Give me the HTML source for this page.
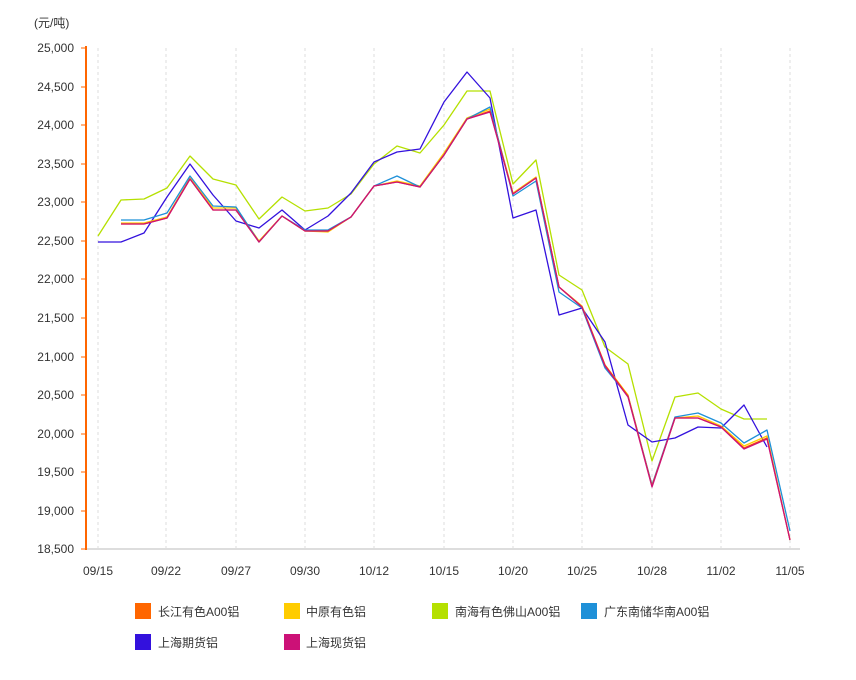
<!DOCTYPE html>
<html><head><meta charset="utf-8"><style>
body{margin:0;background:#fff;font-family:"Liberation Sans","Noto Sans CJK SC",sans-serif;}
</style></head><body>
<svg width="856" height="675" xmlns="http://www.w3.org/2000/svg" font-family="Liberation Sans, Noto Sans CJK SC, sans-serif">
<text x="34" y="27" font-size="12" fill="#333">(元/吨)</text>
<g stroke="#ddd" stroke-dasharray="3,3">
<line x1="98" y1="48" x2="98" y2="549"/><line x1="166" y1="48" x2="166" y2="549"/><line x1="236" y1="48" x2="236" y2="549"/><line x1="305" y1="48" x2="305" y2="549"/><line x1="374" y1="48" x2="374" y2="549"/><line x1="444" y1="48" x2="444" y2="549"/><line x1="513" y1="48" x2="513" y2="549"/><line x1="582" y1="48" x2="582" y2="549"/><line x1="652" y1="48" x2="652" y2="549"/><line x1="721" y1="48" x2="721" y2="549"/><line x1="790" y1="48" x2="790" y2="549"/>
</g>
<line x1="86" y1="549" x2="800" y2="549" stroke="#ddd" stroke-width="2"/>
<line x1="86" y1="46" x2="86" y2="550" stroke="#ff6600" stroke-width="2"/>
<g stroke="#ff6600" stroke-width="1">
<line x1="81" y1="48" x2="86" y2="48"/><line x1="81" y1="87" x2="86" y2="87"/><line x1="81" y1="125" x2="86" y2="125"/><line x1="81" y1="164" x2="86" y2="164"/><line x1="81" y1="202" x2="86" y2="202"/><line x1="81" y1="241" x2="86" y2="241"/><line x1="81" y1="279" x2="86" y2="279"/><line x1="81" y1="318" x2="86" y2="318"/><line x1="81" y1="357" x2="86" y2="357"/><line x1="81" y1="395" x2="86" y2="395"/><line x1="81" y1="434" x2="86" y2="434"/><line x1="81" y1="472" x2="86" y2="472"/><line x1="81" y1="511" x2="86" y2="511"/><line x1="81" y1="549" x2="86" y2="549"/>
</g>
<g font-size="12" fill="#333" text-anchor="end">
<text x="74" y="52">25,000</text><text x="74" y="91">24,500</text><text x="74" y="129">24,000</text><text x="74" y="168">23,500</text><text x="74" y="206">23,000</text><text x="74" y="245">22,500</text><text x="74" y="283">22,000</text><text x="74" y="322">21,500</text><text x="74" y="361">21,000</text><text x="74" y="399">20,500</text><text x="74" y="438">20,000</text><text x="74" y="476">19,500</text><text x="74" y="515">19,000</text><text x="74" y="553">18,500</text>
</g>
<g font-size="12" fill="#333" text-anchor="middle">
<text x="98" y="575">09/15</text><text x="166" y="575">09/22</text><text x="236" y="575">09/27</text><text x="305" y="575">09/30</text><text x="374" y="575">10/12</text><text x="444" y="575">10/15</text><text x="513" y="575">10/20</text><text x="582" y="575">10/25</text><text x="652" y="575">10/28</text><text x="721" y="575">11/02</text><text x="790" y="575">11/05</text>
</g>
<g fill="none" stroke-width="1.3" stroke-linejoin="round">
<polyline stroke="#b5e000" points="98,236 121,200 144,199 167,188 190,156 213,179 236,185 259,219 282,197 305,211 328,208 351,194 374,164 397,146 420,153 444,125 467,91 490,91 513,184 536,160 559,275 582,290 605,347 628,364 652,461 675,397 698,393 721,409 744,419 767,419"/>
<polyline stroke="#3311dd" points="98,242 121,242 144,233 167,197 190,164 213,195 236,221 259,228 282,210 305,230 328,216 351,193 374,162 397,152 420,149 444,102 467,72 490,98 513,218 536,210 559,315 582,308 605,342 628,425 652,442 675,438 698,427 721,428 744,405 767,447"/>
<polyline stroke="#ffcc00" points="121,223 144,223 167,217 190,178 213,208 236,208 259,241 282,216 305,231 328,232 351,217 374,186 397,181 420,186 444,153 467,118 490,109 513,193 536,177 559,287 582,306 605,365 628,395 652,486 675,418 698,416 721,426 744,446 767,436 790,540"/>
<polyline stroke="#1e90d8" points="121,220 144,220 167,213 190,176 213,206 236,207 259,242 282,216 305,230 328,230 351,217 374,186 397,176 420,187 444,155 467,119 490,107 513,196 536,181 559,292 582,308 605,368 628,396 652,485 675,417 698,413 721,423 744,443 767,430 790,531"/>
<polyline stroke="#ff5500" points="121,224 144,224 167,218 190,179 213,210 236,210 259,242 282,216 305,231 328,231 351,217 374,186 397,182 420,187 444,155 467,119 490,111 513,194 536,178 559,287 582,307 605,365 628,396 652,486 675,418 698,418 721,427 744,448 767,438 790,540"/>
<polyline stroke="#cc1177" points="121,224 144,224 167,218 190,179 213,210 236,210 259,242 282,216 305,231 328,231 351,217 374,186 397,182 420,187 444,155 467,119 490,112 513,194 536,178 559,287 582,307 605,366 628,397 652,487 675,418 698,418 721,427 744,449 767,439 790,540"/>
</g>
<g font-size="12" fill="#333">
<rect x="135" y="603" width="16" height="16" fill="#ff6600"/><text x="158" y="616">长江有色A00铝</text>
<rect x="284" y="603" width="16" height="16" fill="#ffcc00"/><text x="306" y="616">中原有色铝</text>
<rect x="432" y="603" width="16" height="16" fill="#b5e000"/><text x="455" y="616">南海有色佛山A00铝</text>
<rect x="581" y="603" width="16" height="16" fill="#1e90d8"/><text x="604" y="616">广东南储华南A00铝</text>
<rect x="135" y="634" width="16" height="16" fill="#3311dd"/><text x="158" y="647">上海期货铝</text>
<rect x="284" y="634" width="16" height="16" fill="#cc1177"/><text x="306" y="647">上海现货铝</text>
</g>
</svg>
</body></html>
